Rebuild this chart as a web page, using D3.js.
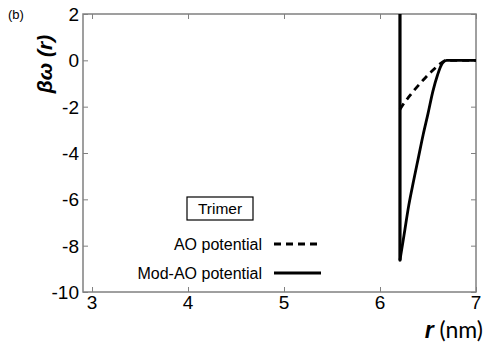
<!DOCTYPE html>
<html><head><meta charset="utf-8">
<script src="https://cdn.jsdelivr.net/npm/d3@7"></script>
<style>body{margin:0;background:#fff}svg{display:block;font-family:"Liberation Sans",Arial,sans-serif}</style>
</head><body>
<svg id="c" width="485" height="364"></svg>
<script>
const xTicks = [3,4,5,6,7];
const yTicks = [2,0,-2,-4,-6,-8,-10];
// AO potential (dashed)
const aoR = [6.208,6.25,6.30,6.35,6.40,6.45,6.50,6.55,6.60,6.65,6.69,7.0];
const aoW = [-2.12,-1.85,-1.58,-1.32,-1.08,-0.85,-0.63,-0.43,-0.24,-0.08,0,0];
// Mod-AO potential (solid)
const modR = [6.208,6.25,6.30,6.35,6.40,6.45,6.50,6.55,6.60,6.65,6.695,7.0];
const modW = [-8.62,-7.55,-6.25,-5.2,-4.2,-3.2,-2.3,-1.35,-0.62,-0.12,0,0];
// hard-core wall of Mod-AO potential
const wallR = [6.208,6.208];
const wallW = [2.5,-8.62];

const svg = d3.select("#c");
const L=83,R=476,T=14,B=292;
const x = d3.scaleLinear().domain([2.906,7]).range([L,R]);
const y = d3.scaleLinear().domain([-10,2]).range([B,T]);
const gray="#808080";

svg.append("clipPath").attr("id","clp").append("rect").attr("x",L).attr("y",T).attr("width",R-L).attr("height",B-T);

const ax = [
  d3.axisBottom(x).tickValues(xTicks).tickSize(-5).tickFormat(""),
  d3.axisTop(x).tickValues(xTicks).tickSize(-5).tickFormat(""),
  d3.axisLeft(y).tickValues(yTicks).tickSize(-5).tickFormat(""),
  d3.axisRight(y).tickValues(yTicks).tickSize(-5).tickFormat("")
];
const tr = [`translate(0,${B})`,`translate(0,${T})`,`translate(${L},0)`,`translate(${R},0)`];
ax.forEach((a,i)=>{
  const g=svg.append("g").attr("transform",tr[i]).call(a);
  g.select(".domain").remove();
  g.selectAll("line").attr("stroke",gray).attr("stroke-width",1);
});
svg.append("rect").attr("x",L).attr("y",T).attr("width",R-L).attr("height",B-T)
  .attr("fill","none").attr("stroke",gray).attr("stroke-width",1.5);

svg.append("g").selectAll("text").data(xTicks).join("text")
  .attr("x",d=>x(d)).attr("y",309).attr("text-anchor","middle")
  .attr("font-size",19).text(d=>d);
svg.append("g").selectAll("text").data(yTicks).join("text")
  .attr("x",79).attr("y",d=>y(d)+7).attr("text-anchor","end")
  .attr("font-size",19).text(d=>d<0?"-"+Math.abs(d):d);

const plot = svg.append("g").attr("clip-path","url(#clp)");
const curve = d3.line().x(d=>x(d[0])).y(d=>y(d[1])).curve(d3.curveMonotoneX);
const lin = d3.line().x(d=>x(d[0])).y(d=>y(d[1]));
plot.append("path").attr("d",curve(aoR.map((r,i)=>[r,aoW[i]])))
  .attr("fill","none").attr("stroke","#000").attr("stroke-width",2.8).attr("stroke-dasharray","7,5");
plot.append("path").attr("d",curve(modR.map((r,i)=>[r,modW[i]])))
  .attr("fill","none").attr("stroke","#000").attr("stroke-width",2.8).attr("stroke-linejoin","round");
plot.append("path").attr("d",lin(wallR.map((r,i)=>[r,wallW[i]])))
  .attr("fill","none").attr("stroke","#000").attr("stroke-width",3.2).attr("stroke-linecap","round");

const yl = svg.append("text").attr("transform","translate(52,64) rotate(-90)")
  .attr("text-anchor","middle").attr("font-size",21).attr("font-weight","bold").attr("font-style","italic");
yl.text("βω (r)");
const xl = svg.append("text").attr("x",483).attr("y",338).attr("text-anchor","end").attr("font-size",23);
xl.append("tspan").attr("font-weight","bold").attr("font-style","italic").text("r");
xl.append("tspan").attr("font-family","Lato, 'Open Sans', sans-serif").text(" (nm)");

svg.append("text").attr("x",8).attr("y",19).attr("font-size",13).text("(b)");

const tb = svg.append("g");
tb.append("rect").attr("x",187).attr("y",197).attr("width",66).attr("height",23).attr("fill","#fff").attr("stroke","#000").attr("stroke-width",1.2);
tb.append("text").attr("x",220).attr("y",214).attr("text-anchor","middle").attr("font-size",15.5).text("Trimer");

const leg = [{name:"AO potential",dash:"7,5",yy:244},{name:"Mod-AO potential",dash:null,yy:273}];
leg.forEach(l=>{
  svg.append("text").attr("x",262).attr("y",l.yy+6).attr("text-anchor","end").attr("font-size",16).text(l.name);
  const ln=svg.append("line").attr("x1",274).attr("x2",321).attr("y1",l.yy).attr("y2",l.yy)
    .attr("stroke","#000").attr("stroke-width",2.8);
  if(l.dash) ln.attr("stroke-dasharray",l.dash);
});
</script>
</body></html>
